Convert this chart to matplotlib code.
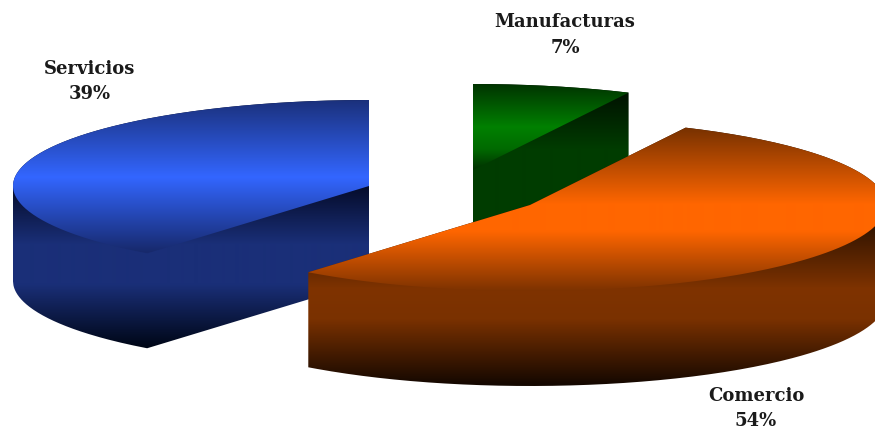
import matplotlib
matplotlib.use('Agg')
import matplotlib.pyplot as plt
import matplotlib.colors as mcolors
from matplotlib.path import Path
import numpy as np

labels = ['Manufacturas', 'Comercio', 'Servicios']
shares = [7.2, 53.5, 39.3]
pct_labels = ['7%', '54%', '39%']

# pie geometry in pixels
rx, ry, depth = 356, 86, 95
centers = {'Manufacturas': (473, 171), 'Comercio': (530, 206), 'Servicios': (369, 187)}
label_pos = {'Manufacturas': (565, 35), 'Comercio': (756, 408.5), 'Servicios': (90, 81.5)}

# colour stops: (y pixel, colour) for top face and wall
top_stops = {
    'Manufacturas': [(85, '#003300'), (128, '#008000'), (150, '#006a00'), (172, '#002c00')],
    'Comercio': [(127, '#743000'), (205, '#ff6600'), (232, '#ff6600'), (293, '#7a3100')],
    'Servicios': [(99, '#1a2f78'), (178, '#3366ff'), (253, '#17296c')],
}
wall_stops = {
    'Manufacturas': [(94, '#001200'), (150, '#003c00'), (260, '#003c00')],
    'Comercio': [(222, '#2c1200'), (290, '#7f3300'), (320, '#7a3100'), (385, '#150800')],
    'Servicios': [(187, '#050c2a'), (245, '#1a2f78'), (285, '#1a2f78'), (347, '#000718')],
}


def sector(cx, cy, a0, a1):
    t = np.radians(np.linspace(a0, a1, 200))
    xs = cx + rx * np.cos(t)
    ys = cy - ry * np.sin(t)
    return np.vstack([[cx, cy], np.column_stack([xs, ys]), [cx, cy]])


def sweep(poly):
    # silhouette of the outline pushed down by depth: upper and lower envelope
    xs = np.linspace(poly[:, 0].min(), poly[:, 0].max(), 800)
    upper = np.full(xs.shape, np.inf)
    lower = np.full(xs.shape, -np.inf)
    for p, q in zip(poly[:-1], poly[1:]):
        inside = (xs >= min(p[0], q[0]) - 1e-9) & (xs <= max(p[0], q[0]) + 1e-9)
        if abs(p[0] - q[0]) < 1e-9:
            lo, hi = min(p[1], q[1]), max(p[1], q[1])
        else:
            lo = hi = p[1] + (xs[inside] - p[0]) * (q[1] - p[1]) / (q[0] - p[0])
        upper[inside] = np.minimum(upper[inside], lo)
        lower[inside] = np.maximum(lower[inside], hi)
    top = np.column_stack([xs, upper])
    bottom = np.column_stack([xs, lower + depth])[::-1]
    return Path(np.vstack([top, bottom, top[:1]]))


def gradient(ax, stops, clip):
    ys = np.arange(431) + 0.5
    pos = [s[0] for s in stops]
    cols = np.array([mcolors.to_rgb(s[1]) for s in stops])
    img = np.stack([np.interp(ys, pos, cols[:, i]) for i in range(3)], axis=1)[:, None, :]
    im = ax.imshow(img, extent=(0, 875, 431, 0), aspect='auto', interpolation='bilinear')
    im.set_clip_path(clip, ax.transData)


fig = plt.figure(figsize=(8.75, 4.31), dpi=100)
ax = fig.add_axes([0, 0, 1, 1])

# pie starts at 12 o'clock and runs clockwise
ends = 90 - np.cumsum(shares) * 3.6
starts = np.concatenate([[90], ends[:-1]])
draw_order = ['Servicios', 'Manufacturas', 'Comercio']
for name in draw_order:
    i = labels.index(name)
    cx, cy = centers[name]
    poly = sector(cx, cy, starts[i], ends[i])
    gradient(ax, wall_stops[name], sweep(poly))
    gradient(ax, top_stops[name], Path(poly))

for name, pct in zip(labels, pct_labels):
    x, y = label_pos[name]
    ax.text(x, y, '%s\n%s' % (name, pct), ha='center', va='center', color='#1a1a1a',
            family='DejaVu Serif', weight='bold', fontsize=13, linespacing=1.55)

ax.set_xlim(0, 875)
ax.set_ylim(431, 0)
ax.axis('off')
fig.savefig('out.png', dpi=100)
